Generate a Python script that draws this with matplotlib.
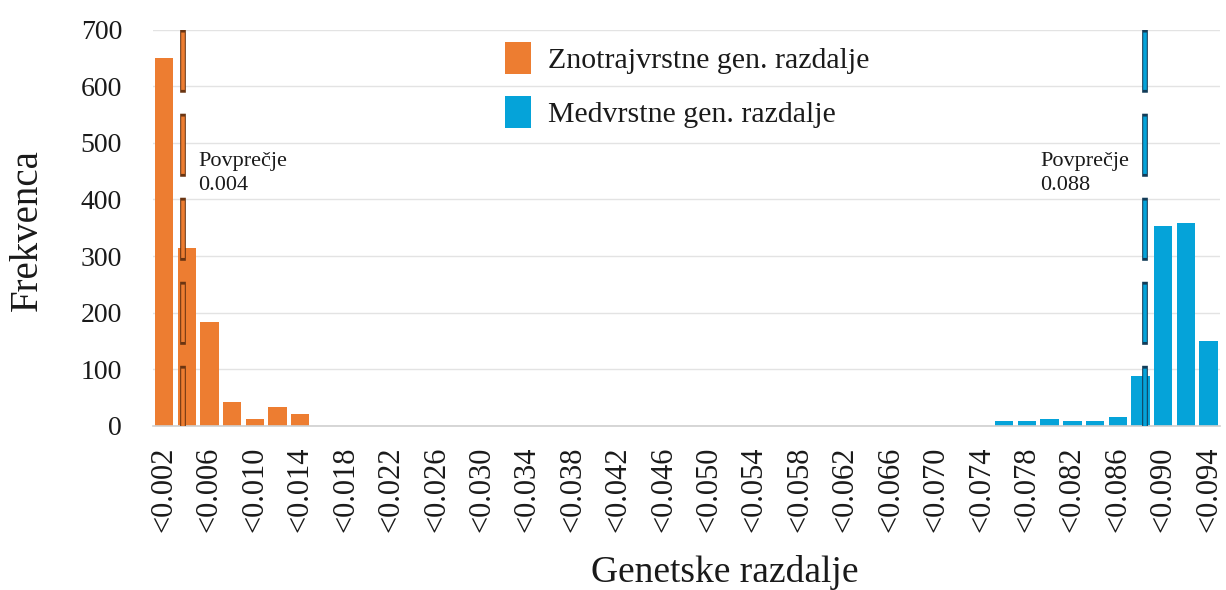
import numpy as np
import matplotlib
matplotlib.use("Agg")
from matplotlib import pyplot as plt
import matplotlib.patheffects as pe

# categories: upper bounds of the distance classes
bins = ["<0.%03d" % k for k in range(2, 96, 2)]

# intraspecific distances (first classes)
intra_idx = [0, 1, 2, 3, 4, 5, 6]
intra_vals = [650, 315, 184, 43, 12, 33, 21]

# interspecific distances (last classes)
inter_idx = [37, 38, 39, 40, 41, 42, 43, 44, 45, 46]
inter_vals = [8, 8, 13, 8, 8, 16, 88, 353, 359, 150]

means = ["0.004", "0.088"]
mean_pos = [0.83, 43.2]

orange = "#ED7D31"
blue = "#05A3D9"
txt = "#1a1a1a"

plt.rcParams['font.family'] = ['Liberation Serif', 'DejaVu Serif']
plt.rcParams['lines.scale_dashes'] = False

fig = plt.figure(figsize=(12.26, 5.90), dpi=100)
ax = fig.add_axes([0.1245, 0.278, 0.8706, 0.672])

ax.bar(intra_idx, intra_vals, width=0.81, color=orange, zorder=2,
       label="Znotrajvrstne gen. razdalje")
ax.bar(inter_idx, inter_vals, width=0.81, color=blue, zorder=2,
       label="Medvrstne gen. razdalje")

# mean lines
for xm, col, edge in [(mean_pos[0], orange, "#6b3512"), (mean_pos[1], blue, "#123c58")]:
    ln, = ax.plot([xm, xm], [0, 700], color=col, lw=2.6, solid_capstyle='butt',
                  dash_capstyle='butt', zorder=3)
    ln.set_dashes((41.3, 19.2))
    ln.set_path_effects([pe.Stroke(linewidth=4.1, foreground=edge, capstyle='projecting'),
                         pe.Normal()])

ax.text(1.5, 483, "Povprečje\n" + means[0], fontsize=16, va='top', ha='left',
        color=txt, linespacing=1.35)
ax.text(38.6, 483, "Povprečje\n" + means[1], fontsize=16, va='top', ha='left',
        color=txt, linespacing=1.35)

ax.set_xlim(-0.5, 46.5)
ax.set_ylim(0, 700)
ax.set_yticks(range(0, 701, 100))
ax.set_xticks(range(0, 47, 2))
ax.set_xticklabels(bins[::2], rotation=90, fontsize=22, color=txt)
ax.tick_params(axis='y', length=0, pad=22, labelsize=20, labelcolor=txt)
ax.tick_params(axis='x', length=0, pad=15)
ax.grid(axis='y', color='#e3e3e3', lw=1.0, zorder=0)
for s in ['top', 'right', 'left']:
    ax.spines[s].set_visible(False)
ax.spines['bottom'].set_color('#d0d0d0')
ax.spines['bottom'].set_linewidth(1.2)

leg = ax.legend(loc='upper left', bbox_to_anchor=(505 / 1226, 1 - 42 / 590),
                bbox_transform=fig.transFigure, frameon=False, fontsize=21.5,
                handlelength=0.87, handleheight=1.25, handletextpad=0.57,
                labelspacing=0.75, borderpad=0, borderaxespad=0)
for t in leg.get_texts():
    t.set_color(txt)

fig.text(27 / 1226, 1 - 230 / 590, "Frekvenca", rotation=90, fontsize=28,
         ha='center', va='center', color=txt)
fig.text(725 / 1226, 1 - 582 / 590, "Genetske razdalje", fontsize=27,
         ha='center', va='baseline', color=txt)

fig.savefig("out.png", dpi=100)
